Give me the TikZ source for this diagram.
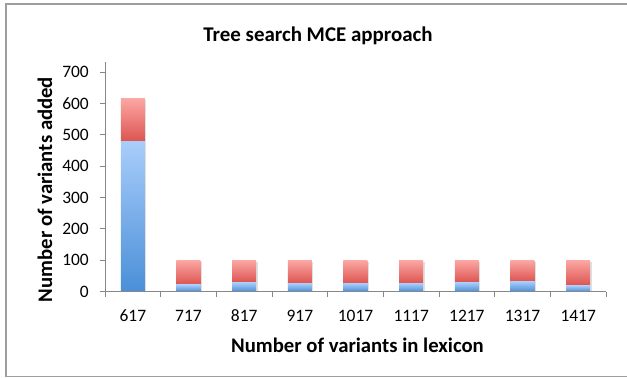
\documentclass[tikz,border=0pt]{standalone}
\usepackage{fontspec}
\setmainfont{Carlito}
\begin{document}
\begin{tikzpicture}[x=1bp,y=-1bp,
  ticklab/.style={font=\fontsize{17.5}{20}\selectfont, text=black, inner sep=0pt},
  axtitle/.style={font=\fontsize{20.8}{24}\selectfont\bfseries, inner sep=0pt},
  axisline/.style={draw=black!47, line width=1bp},
  framestyle/.style={draw=black!38, line width=1.2bp},
  bluebar/.style={top color=blue1top, bottom color=blue1bot},
  redbar/.style={top color=redtop, bottom color=redbot}]
\definecolor{blue1top}{HTML}{A9CDFB}
\definecolor{blue1bot}{HTML}{4A8FD8}
\definecolor{redtop}{HTML}{FCA7A4}
\definecolor{redbot}{HTML}{DC5450}
\useasboundingbox (0,0) rectangle (627,377);
\fill[white] (0,0) rectangle (627,377);
% frame
\draw[framestyle] (627,4) -- (6,4) -- (6,376.5) -- (627,376.5);
% title
\node[axtitle, font=\fontsize{21}{24}\selectfont\bfseries] (title) at (318,36) {Tree search MCE approach};
% bars
\def\yz{291.5}
\def\sc{0.3131}
\foreach \i/\b/\t in {0/480/617, 1/22/100, 2/29/100, 3/26/100, 4/26/100, 5/26/100, 6/29/100, 7/32/100, 8/19/100}{
  \pgfmathsetmacro{\xl}{105+\i*55.67+15.8}
  \pgfmathsetmacro{\xr}{\xl+24}
  \pgfmathsetmacro{\yb}{\yz-\b*\sc}
  \pgfmathsetmacro{\yt}{\yz-\t*\sc}
  \fill[black!12] (\xl+1.5,\yt+1.5) rectangle (\xr+1.5,\yz);
  \shade[redbar] (\xl,\yt) rectangle (\xr,\yb);
  \shade[bluebar] (\xl,\yb) rectangle (\xr,\yz);
}
% axes
\draw[axisline] (105,\yz) -- (606,\yz);
\draw[axisline] (105,\yz) -- (105,62.3);
\foreach \v in {0,100,...,700}{
  \pgfmathsetmacro{\yy}{\yz-\v*\sc}
  \draw[axisline] (100,\yy) -- (105,\yy);
  \node[ticklab, anchor=east] (yl\v) at (89,\yy) {\v};
}
\foreach \i in {0,...,9}{
  \draw[axisline] (105+\i*55.67,\yz) -- (105+\i*55.67,\yz+5.5);
}
\foreach \i/\l in {0/617,1/717,2/817,3/917,4/1017,5/1117,6/1217,7/1317,8/1417}{
  \node[ticklab] (xl\i) at (105+\i*55.67+27.83,316) {\l};
}
\node[axtitle] (xtitle) at (357.5,345) {Number of variants in lexicon};
\node[axtitle, rotate=90] (ytitle) at (45,189.5) {Number of variants added};
\end{tikzpicture}
\end{document}
